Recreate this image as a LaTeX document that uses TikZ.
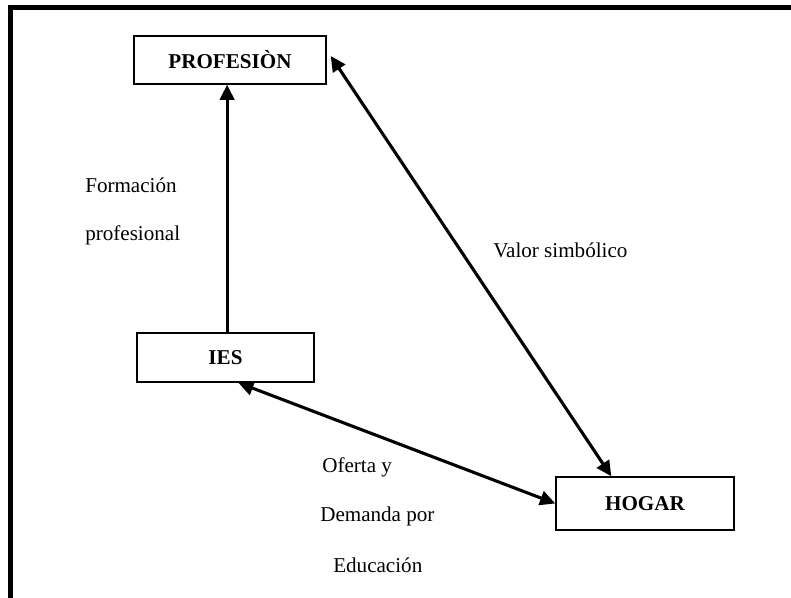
\documentclass[tikz,border=0pt]{standalone}
\usepackage{fontspec}
\setmainfont{Liberation Serif}
\usepackage{tikz}
\usetikzlibrary{arrows.meta,positioning,calc}

\tikzset{
  caja/.style={draw, line width=1pt, font=\fontsize{15}{18}\selectfont\bfseries, inner sep=0pt},
  flecha/.style={line width=2.2pt, {Triangle[length=0.38cm,width=0.36cm]}-{Triangle[length=0.38cm,width=0.36cm]}},
  rotulo/.style={font=\fontsize{15}{18}\selectfont, inner sep=0pt}
}

\begin{document}
\begin{tikzpicture}[x=0.025cm, y=-0.025cm]
    \useasboundingbox (0,0) rectangle (791,598);
    % marco
    \draw[line width=3.6pt] (10.5,598) -- (10.5,7.5) -- (791,7.5);

    \node[caja, minimum width=4.8cm, minimum height=1.2cm] (prof) at (230,60) {PROFESIÒN};
    \node[caja, minimum width=4.425cm, minimum height=1.225cm] (ies) at (225.5,357.5) {IES};
    \node[caja, minimum width=4.45cm, minimum height=1.325cm] (hogar) at (645,503.5) {HOGAR};

    \draw[line width=2.2pt, -{Triangle[length=0.38cm,width=0.36cm]}] ([xshift=0.04cm]ies.north) -- ([xshift=0.04cm]ies.north |- prof.south);
    \draw[flecha] ([shift={(4,-4)}]prof.east) -- ([xshift=1.4cm]hogar.north west);
    \draw[flecha] ([xshift=0.32cm]ies.south) -- (hogar.west);

    \node[rotulo, anchor=west] (f1) at (85,185) {Formación};
    \node[rotulo, anchor=west] (f2) at (85,235) {profesional};
    \node[rotulo, anchor=west] (vs) at (493,250) {Valor simbólico};
    \node[rotulo, anchor=west] (od1) at (322,467) {Oferta y};
    \node[rotulo, anchor=west] (od2) at (320,516) {Demanda por};
    \node[rotulo, anchor=west] (od3) at (333,565) {Educación};
\end{tikzpicture}
\end{document}
